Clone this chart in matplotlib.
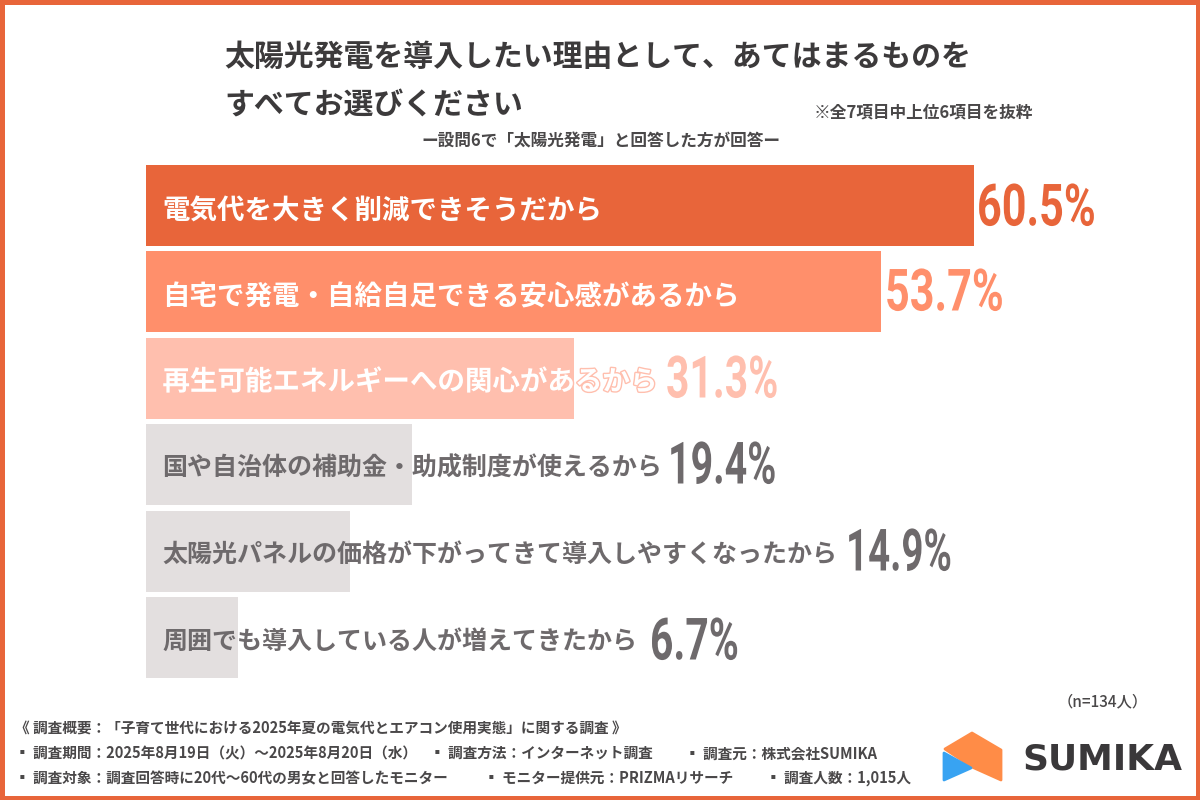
import matplotlib
matplotlib.use("Agg")
import matplotlib.pyplot as plt
import matplotlib.patheffects as pe
from matplotlib.patches import Polygon, Rectangle
from matplotlib.transforms import Affine2D

plt.rcParams['font.family'] = ['Noto Sans CJK JP', 'DejaVu Sans']

labels = ["電気代を大きく削減できそうだから",
          "自宅で発電・自給自足できる安心感があるから",
          "再生可能エネルギーへの関心があるから",
          "国や自治体の補助金・助成制度が使えるから",
          "太陽光パネルの価格が下がってきて導入しやすくなったから",
          "周囲でも導入している人が増えてきたから"]
values = [60.5, 53.7, 31.3, 19.4, 14.9, 6.7]
bar_colors = ["#E8653A", "#FF8F6B", "#FFBFAE", "#E3DFDF", "#E3DFDF", "#E3DFDF"]
value_colors = ["#E8653A", "#FF8F6B", "#FFBFAE", "#6E6A6C", "#6E6A6C", "#6E6A6C"]
label_colors = ["white", "white", "white", "#6E6A6C", "#6E6A6C", "#6E6A6C"]
label_sizes = [19.8, 19.8, 19.8, 18, 18, 18]
label_dy = [0.07, 0.07, 0.045, 0.045, 0.045, 0.045]
value_x = [977, 885, 666, 668, 846, 650]
value_y = [210, 295, 382, 468, 555, 644]
value_squeeze = [0.74, 0.74, 0.7, 0.675, 0.66, 0.7]

title_lines = ["太陽光発電を導入したい理由として、あてはまるものを", "すべてお選びください"]
note = "※全7項目中上位6項目を抜粋"
subtitle = "ー設問6で「太陽光発電」と回答した方が回答ー"
n_note = "（n=134人）"
footer_head = "《 調査概要：「子育て世代における2025年夏の電気代とエアコン使用実態」に関する調査 》"
footer_row1 = [(15, "▪ 調査期間：2025年8月19日（火）～2025年8月20日（水）"), (430, "▪ 調査方法：インターネット調査"), (685, "▪ 調査元：株式会社SUMIKA")]
footer_row2 = [(15, "▪ 調査対象：調査回答時に20代～60代の男女と回答したモニター"), (484, "▪ モニター提供元：PRIZMAリサーチ"), (766, "▪ 調査人数：1,015人")]


class SqueezeX(pe.AbstractPathEffect):
    # the percentages are in a narrow DIN type, none installed so squeeze the glyphs
    def __init__(self, sx):
        super().__init__()
        self.sx = sx

    def draw_path(self, renderer, gc, tpath, affine, rgbFace=None):
        renderer.draw_path(gc, tpath, Affine2D().scale(self.sx, 1) + affine, rgbFace)


fig = plt.figure(figsize=(12, 8), dpi=100)

# overlay in pixel coords for the text and logo
bg = fig.add_axes([0, 0, 1, 1])
bg.set_xlim(0, 1200)
bg.set_ylim(800, 0)
bg.axis("off")

ax = fig.add_axes([146 / 1200, 1 - 678.5 / 800, 1000 / 1200, 514 / 800])
ax.patch.set_alpha(0)
ax.barh(range(6), values, height=0.9375, color=bar_colors)
ax.set_xlim(0, 1000 / 13.69)
ax.set_ylim(5.47, -0.47)
ax.axis("off")

for i, (lab, val) in enumerate(zip(labels, values)):
    t = ax.text(1.2, i + label_dy[i], lab, color=label_colors[i], fontsize=label_sizes[i], fontweight="bold", va="center", ha="left")
    if i == 2:
        t.set_path_effects([pe.withStroke(linewidth=2, foreground="#FFBFAE")])
    v = bg.text(value_x[i], value_y[i], f"{val}%", color=value_colors[i], fontsize=42, fontweight="bold",
                family=["Roboto", "DejaVu Sans"], va="center", ha="left")
    v.set_path_effects([SqueezeX(value_squeeze[i])])

bg.text(224, 57, title_lines[0], fontsize=21.55, fontweight="bold", color="#3C3A3B", va="center")
bg.text(224, 106, title_lines[1], fontsize=21.55, fontweight="bold", color="#3C3A3B", va="center")
bg.text(814, 112, note, fontsize=12, fontweight="bold", color="#4A4849", va="center")
bg.text(421, 142, subtitle, fontsize=12, fontweight="bold", color="#4A4849", va="center")
bg.text(1058, 702, n_note, fontsize=11, color="#4A4849", fontweight="medium", va="center")

bg.text(15, 728, footer_head, fontsize=10.55, color="#4A4849", fontweight="bold", va="center")
for x, s in footer_row1:
    bg.text(x, 753, s, fontsize=10.55, color="#4A4849", fontweight="bold", va="center")
for x, s in footer_row2:
    bg.text(x, 778, s, fontsize=10.55, color="#4A4849", fontweight="bold", va="center")

# logo
bg.add_patch(Polygon([(945, 749), (972, 733), (1001, 750), (1001, 780), (972, 767)], closed=True,
                     fc="#FF8C47", ec="#FF8C47", lw=2, joinstyle="round"))
bg.add_patch(Polygon([(944, 753), (971, 768), (944, 780)], closed=True,
                     fc="#38A3F2", ec="#38A3F2", lw=2, joinstyle="round"))
bg.text(1022, 759, "SUMIKA", fontsize=25.9, fontweight="bold", color="#3A383A", va="center",
        family=["DejaVu Sans"])

# frame round the picture
bg.add_patch(Rectangle((2, 2), 1196, 796, fill=False, ec="#E8653A", lw=3.6))

fig.savefig("out.png", dpi=100)
